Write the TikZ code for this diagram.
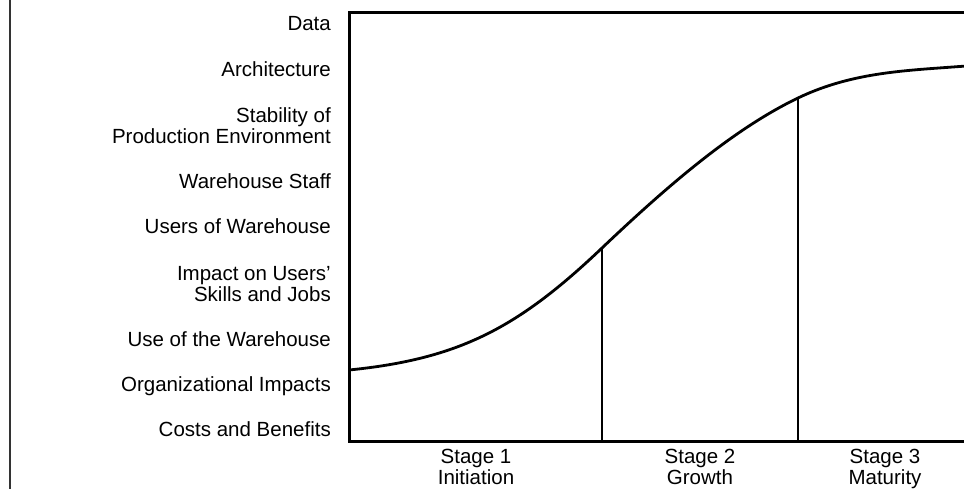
\documentclass[tikz,border=0pt]{standalone}
\usepackage{fontspec}
\setmainfont{Liberation Sans}
\begin{document}
\begin{tikzpicture}[x=1pt,y=-1pt,
  lbl/.style={anchor=base east, inner sep=0pt, align=right,
    font=\fontsize{20.5}{21.5}\selectfont},
  stg/.style={anchor=base, inner sep=0pt, align=center,
    font=\fontsize{20.5}{21}\selectfont},
  frame/.style={line width=3pt, line join=miter},
  curve/.style={line width=2.8pt},
  divider/.style={line width=2.8pt},
  margin/.style={line width=1.3pt, black!80}]
\useasboundingbox (0,0) rectangle (964,489);

% thin rule along the left edge
\coordinate (mtop) at (10,-2);
\coordinate (mbot) at (10,491);
\draw[margin] (mtop) -- (mbot);

% chart frame (open on the right)
\coordinate (tr) at (968,13);
\coordinate (tl) at (349,13);
\coordinate (bl) at (349,441);
\coordinate (br) at (968,441);
\draw[frame] (tr) -- (tl) -- (bl) -- (br);

% growth curve, three cubic pieces joined smoothly
\coordinate (c0) at (349,370);
\coordinate (c1) at (602,248);
\coordinate (c2) at (798,98);
\coordinate (c3) at (966,66);
\draw[curve] (c0) .. controls (459,359) and (518,328) .. (c1)
                  .. controls (667,186.3) and (733,129.2) .. (c2)
                  .. controls (854,71.1) and (910,70.5) .. (c3);

% stage boundaries
\coordinate (b1) at (602,441);
\coordinate (b2) at (798,441);
\draw[divider] (c1) -- (b1);
\draw[divider] (c2) -- (b2);

% factor labels (base anchor sits on the last line)
\node[lbl] (data)  at (331,31)  {Data};
\node[lbl] (arch)  at (331,77)  {Architecture};
\node[lbl] (stab)  at (331,144) {Stability of\\Production Environment};
\node[lbl] (staff) at (331,189) {Warehouse Staff};
\node[lbl] (users) at (331,234) {Users of Warehouse};
\node[lbl] (impact) at (331,301.7) {Impact on Users’\\Skills and Jobs};
\node[lbl] (use)   at (331,346.7) {Use of the Warehouse};
\node[lbl] (org)   at (331,391.7) {Organizational Impacts};
\node[lbl] (cost)  at (331,436.7) {Costs and Benefits};

% stage labels
\node[stg] (s1) at (476,484) {Stage 1\\Initiation};
\node[stg] (s2) at (700,484) {Stage 2\\Growth};
\node[stg] (s3) at (885,484) {Stage 3\\Maturity};
\end{tikzpicture}
\end{document}
